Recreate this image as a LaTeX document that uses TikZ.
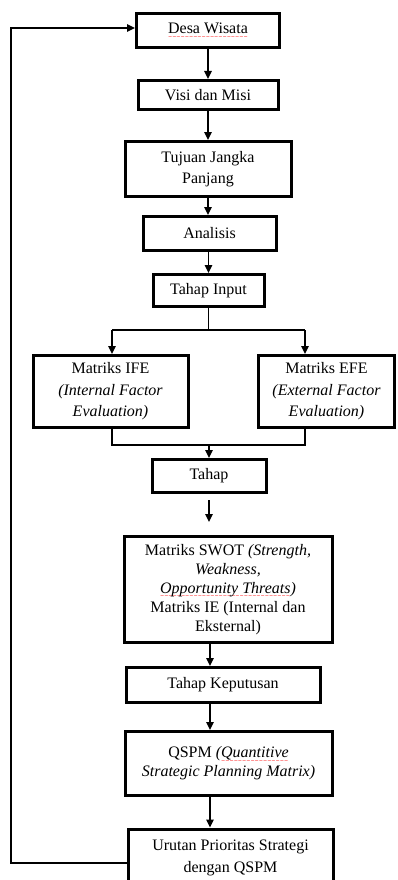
\documentclass[tikz,border=0pt]{standalone}
\usepackage{fontspec}
\setmainfont{Liberation Serif}
\newfontfamily\ombak{DejaVu Sans}
\usetikzlibrary{positioning, arrows.meta}

% garis merah bergelombang di bawah kata
\newcommand\salah[1]{\setbox0\hbox{#1}\leavevmode\rlap{\raisebox{-4.5pt}{\hbox to \wd0{\color{red}\fontsize{5}{5}\ombak\leaders\hbox{∼}\hfill}}}\box0}

\tikzset{
  kotak/.style={draw, line width=3pt, align=center, inner sep=2pt,
    font=\fontsize{16}{21.5}\selectfont},
  rapat/.style={font=\fontsize{16}{19}\selectfont},
  garis/.style={line width=1.5pt},
  panah/.style={garis, -{Triangle[width=7.5pt,length=8pt]}},
}

\begin{document}
\begin{tikzpicture}[x=1pt, y=-1pt, on grid]
			\useasboundingbox (0,0) rectangle (398,880);
			\clip (0,0) rectangle (398,880);

			\node[kotak, minimum width=143pt, minimum height=34pt] (desa) at (208,30.5) {\salah{Desa Wisata}};
			\node[kotak, minimum width=140pt, minimum height=29pt, below=64.5pt of desa] (visi) {Visi dan Misi};
			\node[kotak, minimum width=166pt, minimum height=55pt, below=74pt of visi] (tujuan) {Tujuan Jangka\\Panjang};
			\node[kotak, minimum width=133pt, minimum height=34pt, below=64.5pt of tujuan, xshift=1.5pt] (analisis) {Analisis};
			\node[kotak, minimum width=111pt, minimum height=32pt, below=57pt of analisis, xshift=-1pt] (input) {Tahap Input};
			\node[kotak, minimum width=155pt, minimum height=72pt, below left=101pt and 98pt of input] (ife) {Matriks IFE\\\textit{(Internal Factor}\\\textit{Evaluation)}};
			\node[kotak, minimum width=136pt, minimum height=72pt, below right=101pt and 118pt of input] (efe) {Matriks EFE\\\textit{(External Factor}\\\textit{Evaluation)}};
			\node[kotak, minimum width=114pt, minimum height=33pt, below=185.5pt of input, xshift=0.5pt] (tahap) {Tahap};
			\node[kotak, rapat, minimum width=208pt, minimum height=106pt, below=113.5pt of tahap, xshift=19pt] (swot) {Matriks SWOT \textit{(Strength,}\\\textit{Weakness,}\\\textit{\salah{Opportunity Threats})}\\Matriks IE (Internal dan\\Eksternal)};
			\node[kotak, minimum width=194pt, minimum height=35pt, below=95.5pt of swot, xshift=-5pt] (keputusan) {Tahap Keputusan};
			\node[kotak, rapat, minimum width=207pt, minimum height=64pt, below=78.5pt of keputusan, xshift=5.5pt] (qspm) {QSPM \textit{(\salah{Quantitive}}\\\textit{Strategic Planning Matrix)}};
			\node[kotak, minimum width=205pt, minimum height=58pt, below=94.5pt of qspm, xshift=2pt] (urutan) {Urutan Prioritas Strategi\\dengan QSPM};

			% titik bantu
			\coordinate (poros) at (210,0);
			\coordinate (kiri) at (112,330);
			\coordinate (kanan) at (305,330);
			\coordinate (kiri2) at (112,445);
			\coordinate (kanan2) at (305,445);
			\coordinate (balik) at (11,0);

			\draw[panah] (desa.south) -- (desa.south |- visi.north);
			\draw[panah] (visi.south) -- (visi.south |- tujuan.north);
			\draw[panah] (tujuan.south) -- (tujuan.south |- analisis.north);
			\draw[panah] (analisis.south -| input) -- (input.north);

			% cabang ke IFE dan EFE
			\draw[garis] (input.south) -- (input.south |- kiri);
			\draw[garis] (kiri) -- (kanan);
			\draw[panah] (kiri) -- (kiri |- ife.north);
			\draw[panah] (kanan) -- (kanan |- efe.north);
			\draw[garis] (kiri |- ife.south) -- (kiri2) -- (kanan2) -- (kanan |- efe.south);
			\draw[panah] (tahap.north |- kiri2) -- (tahap.north);

			\draw[panah] ([yshift=-6pt]tahap.south) -- ++(0,22);
			\draw[panah] (swot.south -| poros) -- (keputusan.north -| poros);
			\draw[panah] (keputusan.south -| poros) -- (qspm.north -| poros);
			\draw[panah] (qspm.south -| poros) -- (urutan.north -| poros);

			% umpan balik
			\draw[panah, line width=1.3pt] ([yshift=-5pt]urutan.west) -| ([yshift=2.5pt]desa.west -| balik) -- ([yshift=2.5pt]desa.west);

		\end{tikzpicture}
\end{document}
